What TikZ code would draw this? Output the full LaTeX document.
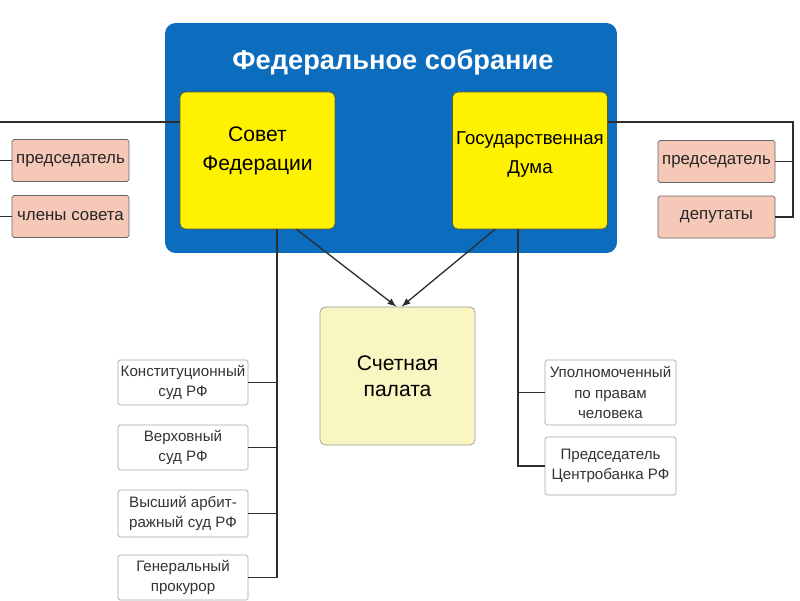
\documentclass[tikz,border=0pt]{standalone}
\usepackage{fontspec}
\setmainfont{Liberation Sans}
\usepackage{xcolor}
\usetikzlibrary{calc, positioning, arrows.meta}

\definecolor{sobraniecol}{RGB}{12,108,190}
\definecolor{palatacol}{RGB}{250,246,194}
\definecolor{pinkcol}{RGB}{246,200,184}
\definecolor{linecol}{RGB}{45,45,45}

\tikzset{
  palatabox/.style={draw=olive!60!black, fill=yellow, rounded corners=3pt, align=center,
    minimum width=3.1cm, minimum height=2.74cm, font=\fontsize{12}{16.5}\selectfont},
  pinkbox/.style={draw=gray!80!black, fill=pinkcol, rounded corners=1pt, align=center, inner sep=1pt,
    minimum width=2.34cm, minimum height=0.84cm, text=black!85, font=\fontsize{9.6}{12}\selectfont},
  organbox/.style={draw=gray!70, fill=white, rounded corners=1pt, align=center, inner sep=1pt,
    text=black!80, font=\fontsize{8.6}{11.5}\selectfont},
  link/.style={draw=linecol, line width=0.75pt}
}

\begin{document}
\begin{tikzpicture}[>=latex, x=0.02cm, y=-0.02cm]
    \useasboundingbox (0,0) rectangle (800,600);

    % 1. Федеральное собрание
    \node[fill=sobraniecol, rounded corners=6pt, minimum width=9.04cm, minimum height=4.6cm]
        (sobranie) at (391,138) {};
    \node[text=white, font=\fontsize{15.5}{18}\selectfont\bfseries] (title) at (393,62) {Федеральное собрание};
    \node[palatabox, text depth=13pt] (sovet) at (257.5,160.5) {Совет\\Федерации};
    \node[palatabox, inner sep=1pt, text depth=9pt, font=\fontsize{10.6}{16}\selectfont] (duma) at (530,160.5) {Государственная\\Дума};

    % 2. Счетная палата
    \node[palatabox, draw=gray!80, fill=palatacol, minimum height=2.76cm, font=\fontsize{12}{15}\selectfont] (palata) at (397.5,376) {Счетная\\палата};
    \draw[->, link] ($(sovet.south)!0.5!(sovet.south east)$) -- ($(palata.north)+(-1,0)$);
    \draw[->, link] ($(duma.south)!0.45!(duma.south west)$) -- ($(palata.north)+(4,0)$);

    % 3. Палаты: председатели, члены, депутаты
    \node[pinkbox] (pred1) at (70.5,160.5) {председатель};
    \node[pinkbox] (chleny) at (70.5,216.5) {члены совета};
    \node[pinkbox] (pred2) at (716.5,161.5) {председатель};
    \node[pinkbox] (deputaty) at (716.5,217) {депутаты};
    \coordinate (lft) at (0,122);
    \coordinate (rgt) at (793,122);
    \draw[link] (lft) -- (lft -| sovet.west);
    \draw[link] (pred1.west) -- (pred1.west -| lft);
    \draw[link] (chleny.west) -- (chleny.west -| lft);
    \draw[link] (duma.east |- rgt) -- (rgt) -- (rgt |- deputaty.east) -- (deputaty.east);
    \draw[link] (pred2.east) -- (pred2.east -| rgt);

    % 4. Назначения Совета Федерации
    \node[organbox, minimum width=2.6cm, minimum height=0.9cm] (ks) at (183,382.5) {Конституционный\\суд РФ};
    \node[organbox, minimum width=2.6cm, minimum height=0.9cm] (vs) at (183,447.5) {Верховный\\суд РФ};
    \node[organbox, minimum width=2.6cm, minimum height=0.94cm] (vas) at (183,513.5) {Высший арбит-\\ражный суд РФ};
    \node[organbox, minimum width=2.6cm, minimum height=0.9cm] (gp) at (183,577.5) {Генеральный\\прокурор};
    \coordinate (lv) at (277,0);
    \draw[link] (sovet.south -| lv) -- (lv |- gp.east) -- (gp.east);
    \foreach \n in {ks, vs, vas}
        \draw[link] (\n.east) -- (\n.east -| lv);

    % 5. Назначения Государственной Думы
    \node[organbox, minimum width=2.62cm, minimum height=1.3cm] (upol) at (610.5,392.5) {Уполномоченный\\по правам\\человека};
    \node[organbox, minimum width=2.62cm, minimum height=1.16cm] (cb) at (610.5,466) {Председатель\\Центробанка РФ};
    \coordinate (rv) at (518,0);
    \draw[link] (duma.south -| rv) -- (rv |- cb.west) -- (cb.west);
    \draw[link] (upol.west) -- (upol.west -| rv);
\end{tikzpicture}
\end{document}
